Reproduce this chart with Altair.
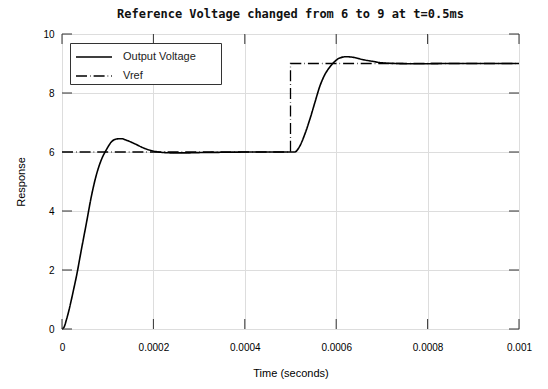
import altair as alt
import pandas as pd

# ---- data ----
t_out_us = [0, 5, 9.6, 15, 20.5, 26, 31.5, 42.4, 53.4, 64.3, 75.3, 86.2, 97.2, 108, 119, 130,
            141, 159, 181, 203, 225, 245, 270, 300, 350, 420, 500,
            509, 520, 531, 542, 553, 564, 575, 586, 597, 608, 622, 637, 659, 681, 702,
            732, 770, 850, 1000]
v_out = [0, 0.08, 0.31, 0.62, 0.99, 1.38, 1.78, 2.69, 3.59, 4.5, 5.23, 5.74, 6.08, 6.34, 6.44, 6.45,
         6.40, 6.28, 6.12, 6.02, 5.98, 5.97, 5.97, 5.98, 5.99, 6.0, 6.0,
         6.0, 6.19, 6.59, 7.09, 7.66, 8.22, 8.62, 8.88, 9.07, 9.19, 9.23, 9.21, 9.13, 9.07, 9.02,
         9.0, 8.99, 9.0, 9.0]

t_ref_us = [0, 500, 500, 1000]
v_ref = [6, 6, 9, 9]

series_names = ["Output Voltage", "Vref"]
x_ticks = [0, 0.0002, 0.0004, 0.0006, 0.0008, 0.001]
y_ticks = [0, 2, 4, 6, 8, 10]

W, H = 457, 295

out_df = pd.DataFrame({"t": [t * 1e-6 for t in t_out_us], "v": v_out,
                       "series": series_names[0], "i": range(len(v_out))})
ref_df = pd.DataFrame({"t": [t * 1e-6 for t in t_ref_us], "v": v_ref,
                       "series": series_names[1], "i": range(len(v_ref))})
xt_df = pd.DataFrame({"t": x_ticks})
yt_df = pd.DataFrame({"v": y_ticks})

xscale = alt.Scale(domain=[0, 0.001], nice=False, zero=False)
yscale = alt.Scale(domain=[0, 10], nice=False)

x_axis = alt.Axis(values=x_ticks, title="Time (seconds)", ticks=False, domain=False,
                  labelPadding=13, titlePadding=15, labelFlush=False, labelOverlap=False,
                  titleFontWeight=400,
                  labelExpr="datum.value == 0 ? '0' : format(datum.value, '.4~f')")
y_axis = alt.Axis(values=y_ticks, title="Response", ticks=False, domain=False,
                  labelPadding=8, titlePadding=16, titleFontWeight=400)

dash_scale = alt.Scale(domain=series_names, range=[[1, 0], [11, 3, 0.6, 3]])
dash_legend = alt.Legend(title=None, orient="none", legendX=8, legendY=9,
                         fillColor="white", strokeColor="#333", padding=3,
                         symbolType="M-1.8,0H1.8", symbolSize=400, symbolOffset=10,
                         symbolStrokeColor="black", symbolDash=[1, 0],
                         symbolStrokeWidth=1.5, labelFontSize=11, labelColor="#222",
                         labelFont="Liberation Sans", rowPadding=3, labelOffset=18,
                         labelExpr="datum.label + '\u2003\u2003\u200b'")

out_line = alt.Chart(out_df).mark_line(color="black", strokeWidth=1.6, interpolate="monotone").encode(
    x=alt.X("t:Q", scale=xscale, axis=x_axis),
    y=alt.Y("v:Q", scale=yscale, axis=y_axis),
    strokeDash=alt.StrokeDash("series:N", scale=dash_scale, legend=dash_legend),
    order="i:Q",
)
ref_line = alt.Chart(ref_df).mark_line(color="black", strokeWidth=1.3).encode(
    x=alt.X("t:Q", scale=xscale),
    y=alt.Y("v:Q", scale=yscale),
    strokeDash=alt.StrokeDash("series:N", scale=dash_scale, legend=dash_legend),
    order="i:Q",
)

tick_color = "#333"
bot_ticks = alt.Chart(xt_df).mark_rule(color=tick_color, strokeWidth=1).encode(
    x=alt.X("t:Q", scale=xscale), y=alt.value(H), y2=alt.value(H - 10))
top_ticks = alt.Chart(xt_df).mark_rule(color=tick_color, strokeWidth=1).encode(
    x=alt.X("t:Q", scale=xscale), y=alt.value(0), y2=alt.value(10))
left_ticks = alt.Chart(yt_df).mark_rule(color=tick_color, strokeWidth=1).encode(
    y=alt.Y("v:Q", scale=yscale), x=alt.value(0), x2=alt.value(10))
right_ticks = alt.Chart(yt_df).mark_rule(color=tick_color, strokeWidth=1).encode(
    y=alt.Y("v:Q", scale=yscale), x=alt.value(W), x2=alt.value(W - 10))

chart = alt.layer(ref_line, out_line, bot_ticks, top_ticks, left_ticks, right_ticks).properties(
    width=W, height=H,
    title=alt.TitleParams("Reference Voltage changed from 6 to 9 at t=0.5ms",
                          font="DejaVu Sans Mono", fontSize=12, fontWeight="bold",
                          color="#111", anchor="middle", offset=8),
    autosize=alt.AutoSizeParams(type="none"),
    padding={"left": 54, "top": 26, "right": 20, "bottom": 50},
).configure_view(stroke="#808080", strokeWidth=1).configure_axis(
    gridColor="#ededed", gridWidth=1, labelFont="Liberation Sans", labelFontSize=11,
    labelColor="#333", titleFont="Liberation Sans", titleFontSize=12,
    titleColor="#222",
).configure(background="white")

chart.save("out.html", embed_options={"renderer": "svg", "actions": False})
